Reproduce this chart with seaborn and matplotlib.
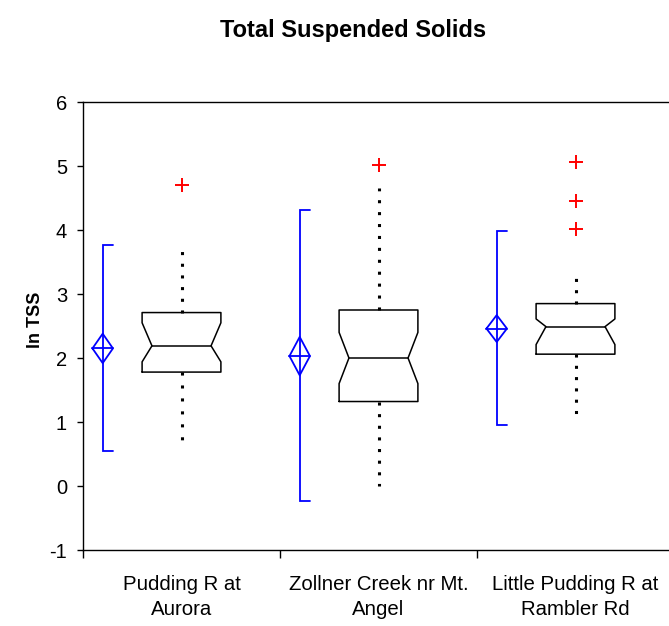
import matplotlib
matplotlib.use("Agg")
import matplotlib.pyplot as plt
import seaborn as sns
import numpy as np

# ---- data ----
groups = ["Pudding R at\nAurora", "Zollner Creek nr Mt.\nAngel", "Little Pudding R at\nRambler Rd"]
q1 = [1.78, 1.32, 2.06]
med = [2.19, 2.00, 2.49]
q3 = [2.71, 2.75, 2.85]
notch_lo = [1.94, 1.60, 2.21]
notch_hi = [2.55, 2.40, 2.61]
whisk_lo = [0.72, 0.00, 1.13]
whisk_hi = [3.67, 4.66, 3.25]
outliers = [[4.70], [5.01], [5.07, 4.45, 4.01]]
means = [2.15, 2.03, 2.46]
mean_ci = [0.23, 0.30, 0.21]
range_lo = [0.55, -0.23, 0.95]
range_hi = [3.77, 4.32, 3.99]
yticks = [-1, 0, 1, 2, 3, 4, 5, 6]

sns.set_style("ticks")
plt.rcParams['font.family'] = ['Liberation Sans', 'DejaVu Sans']
for k in ['text.color', 'axes.labelcolor', 'xtick.color', 'ytick.color', 'axes.edgecolor']:
    plt.rcParams[k] = 'black'

fig = plt.figure(figsize=(6.69, 6.26), dpi=100)
ax = fig.add_axes([83 / 669, 76 / 626, 591 / 669, 448 / 626])

pos = np.arange(len(groups))
box_w = 0.40
stats = []
for i in range(len(groups)):
    stats.append(dict(med=med[i], q1=q1[i], q3=q3[i], whislo=whisk_lo[i], whishi=whisk_hi[i],
                      cilo=notch_lo[i], cihi=notch_hi[i], fliers=[], label=groups[i]))

ax.set_ylim(-1, 6)
ax.set_xlim(-0.5, len(groups) - 0.5)

wlw = 2.2
res = ax.bxp(stats, positions=pos, widths=box_w, shownotches=True, showcaps=False,
             showfliers=False, patch_artist=False,
             boxprops=dict(color='black', linewidth=1.1),
             medianprops=dict(color='black', linewidth=1.1),
             whiskerprops=dict(color='black', linewidth=wlw, dash_capstyle='butt'))
ax.set_ylim(-1, 6)
ax.set_xlim(-0.5, len(groups) - 0.5)

# narrower notch indentation like the reference
for i, (bx, md) in enumerate(zip(res['boxes'], res['medians'])):
    p = pos[i]
    bl, br = p - box_w / 2, p + box_w / 2
    nl, nr = p - box_w * 0.375, p + box_w * 0.375
    bx.set_xdata([bl, br, br, nr, br, br, bl, bl, nl, bl, bl])
    md.set_xdata([nl, nr])

# dotted whiskers: spacing fitted so a dot lands at each whisker end
lw_px = wlw * fig.dpi / 72
for wl in res['whiskers']:
    xs, ys = wl.get_xdata(), wl.get_ydata()
    p0 = ax.transData.transform((xs[0], ys[0]))
    p1 = ax.transData.transform((xs[1], ys[1]))
    L = abs(p1[1] - p0[1])
    n = max(1, int(round((L - lw_px) / 12.0)))
    period = (L - lw_px) / n
    wl.set_linestyle((0, (1, period / lw_px - 1)))

# outliers
ox = [pos[i] for i in range(len(groups)) for _ in outliers[i]]
oy = [v for i in range(len(groups)) for v in outliers[i]]
sns.scatterplot(x=ox, y=oy, marker='+', color='red', s=110, linewidth=1.4, ax=ax, zorder=5)

# mean diamonds with range brackets
off = -0.40
cap = 0.054
dw = 0.052
for i in range(len(groups)):
    x0 = pos[i] + off
    ax.plot([x0 + cap, x0, x0, x0 + cap], [range_hi[i], range_hi[i], range_lo[i], range_lo[i]],
            color='blue', linewidth=1.3, solid_joinstyle='miter')
    ax.plot([x0 - dw, x0, x0 + dw, x0, x0 - dw],
            [means[i], means[i] + mean_ci[i], means[i], means[i] - mean_ci[i], means[i]],
            color='blue', linewidth=1.3)
    ax.plot([x0 - dw, x0 + dw], [means[i], means[i]], color='blue', linewidth=1.3)

ax.set_ylim(-1, 6)
ax.set_yticks(yticks)
ax.set_yticklabels([str(t) for t in yticks], fontsize=14.5)
ax.set_xlim(-0.5, len(groups) - 0.5)
ax.set_xticks(pos)
ax.set_xticklabels(groups, fontsize=14.7, linespacing=1.4)
ax.tick_params(axis='x', which='major', length=0, pad=18)
ax.set_xticks(np.arange(len(groups) + 1) - 0.5, minor=True)
ax.tick_params(axis='x', which='minor', length=6, width=1, color='black', direction='out')
ax.tick_params(axis='y', length=4.5, width=1, color='black', direction='out', pad=7)

for s in ['left', 'bottom', 'top', 'right']:
    ax.spines[s].set_color('black')
    ax.spines[s].set_linewidth(1.0)

ax.set_ylabel("ln TSS", fontsize=13, fontweight='bold', va='center')
ax.yaxis.set_label_coords((36 - 83) / 591, (550 - 320) / 448)
fig.text(353 / 669, 1 - 30 / 626, "Total Suspended Solids", ha='center', va='center',
         fontsize=17, fontweight='bold')

fig.savefig("out.png", dpi=100)
